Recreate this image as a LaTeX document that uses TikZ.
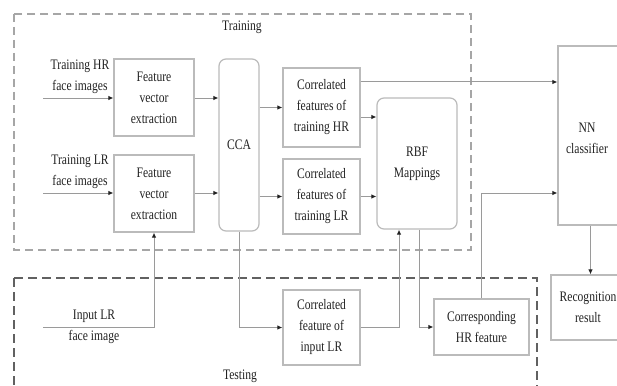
\documentclass[tikz,border=0pt]{standalone}
\usepackage{fontspec}
\setmainfont{Liberation Serif}[FakeStretch=0.8]
\usetikzlibrary{arrows.meta,calc}
\definecolor{boxc}{HTML}{BBBBBB}
\definecolor{linec}{HTML}{9A9A9A}
\definecolor{txtc}{HTML}{222222}
\begin{document}
\begin{tikzpicture}[x=1pt,y=-1pt,
  every node/.style={text=txtc,font=\fontsize{14.5}{21}\selectfont,align=center,inner sep=0pt},
  box/.style={draw=boxc,line width=1.2pt,fill=white},
  rbox/.style={box,rounded corners=7pt},
  conn/.style={draw=linec,line width=1pt,-{Latex[length=5pt,width=4.5pt,color=txtc]}},
  lbl/.style={},
]
\useasboundingbox (0,0) rectangle (617,385);
\clip (0,0) rectangle (617,385);
\fill[white] (0,0) rectangle (617,385);

% dashed regions
\draw[draw=black!35,line width=1.5pt,dash pattern=on 8pt off 5pt] (14,14) rectangle (471,250);
\draw[draw=black!62,line width=1.8pt,dash pattern=on 9pt off 5pt] (14,278) -- (537,278) -- (537,400);
\draw[draw=black!62,line width=1.8pt,dash pattern=on 9pt off 5pt] (14,278) -- (14,400);
\node[lbl] (trainlbl) at (242,27) {Training};
\node[lbl] (testlbl) at (240,376) {Testing};

% boxes
\node[box,minimum width=80pt,minimum height=77pt] (fve1) at (154,97.5) {Feature\\vector\\extraction};
\node[box,minimum width=80pt,minimum height=77pt] (fve2) at (154,193.5) {Feature\\vector\\extraction};
\node[rbox,minimum width=40pt,minimum height=172pt] (cca) at (239,145) {CCA};
\node[box,minimum width=77pt,minimum height=79pt] (chr) at (321.5,107.5) {Correlated\\features of\\training HR};
\node[box,minimum width=77pt,minimum height=75pt] (clr) at (321.5,196.5) {Correlated\\features of\\training LR};
\node[rbox,minimum width=80pt,minimum height=131pt] (rbf) at (417,163.5) {RBF\\Mappings};
\node[box,minimum width=82pt,minimum height=179pt] (nn) at (599,135.5) {};
\node (nntext) at (587,138) {NN\\classifier};
\node[box,minimum width=79pt,minimum height=65pt] (rec) at (590.5,307.5) {};
\node (rectext) at (588,307.5) {Recognition\\result};
\node[box,minimum width=77pt,minimum height=75pt] (cin) at (321.5,327.5) {Correlated\\feature of\\input LR};
\node[box,minimum width=95pt,minimum height=56pt] (chf) at (481.5,327) {Corresponding\\HR feature};

% inputs
\coordinate (inhr) at (43,98);
\coordinate (inlr) at (43,193);
\coordinate (intest) at (43,327);
\node[lbl] (lblhr) at (80,77) {Training HR\\face images};
\node[lbl] (lbllr) at (80,172) {Training LR\\face images};
\node[lbl] (lblin1) at (94,316) {Input LR};
\node[lbl] (lblin2) at (94,337) {face image};

% helper coordinates
\coordinate (chrA) at ($(chr.east)+(0,9.5)$);
\coordinate (chrB) at ($(chr.east)+(0,-25.5)$);
\coordinate (nnB) at ($(nn.west)+(0,57.5)$);
\coordinate (rbfL) at ($(rbf.south)+(-18,0)$);
\coordinate (rbfR) at ($(rbf.south)+(2,0)$);

% connectors
\draw[conn] (inhr) -- (inhr -| fve1.west);
\draw[conn] (inlr) -- (inlr -| fve2.west);
\draw[conn] (fve1.east |- inhr) -- (inhr -| cca.west);
\draw[conn] (fve2.east |- inlr) -- (inlr -| cca.west);
\draw[conn] (cca.east |- chr.west) -- (chr.west);
\draw[conn] (cca.east |- clr.west) -- (clr.west);
\draw[conn] (chrA) -- (chrA -| rbf.west);
\draw[conn] (clr.east) -- (clr.east -| rbf.west);
\draw[conn] (chrB) -- (chrB -| nn.west);
\draw[conn] (chf.north) |- (nnB);
\draw[conn] (rec.north |- nn.south) -- (rec.north);
\draw[conn] (intest) -| (fve2.south);
\draw[conn] (cca.south) |- (cin.west);
\draw[conn] (cin.east) -| (rbfL);
\draw[conn] (rbfR) |- (chf.west);
\end{tikzpicture}
\end{document}
